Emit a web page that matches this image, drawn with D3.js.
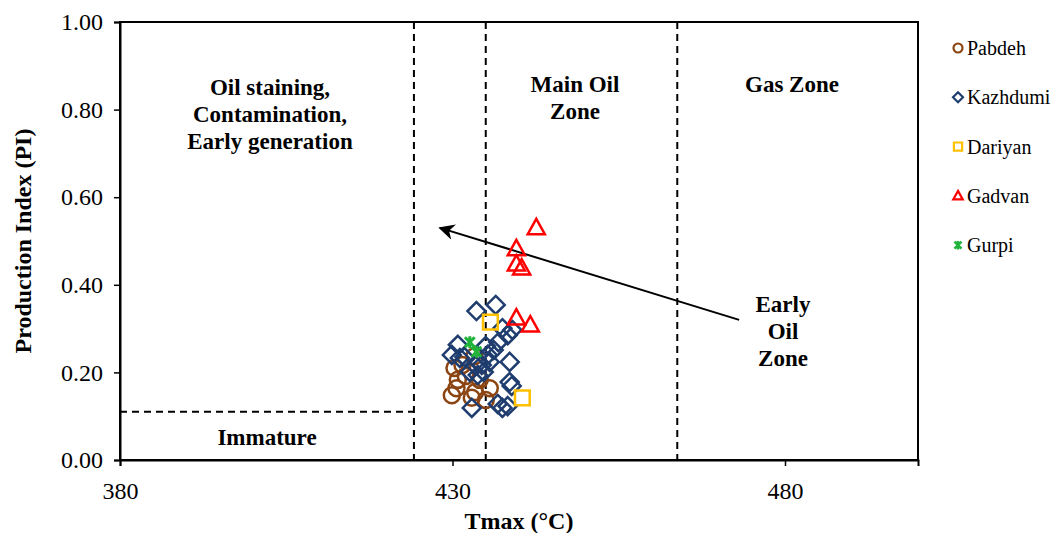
<!DOCTYPE html>
<html>
<head>
<meta charset="utf-8">
<script src="https://cdn.jsdelivr.net/npm/d3@7"></script>
<style>
  html, body { margin: 0; padding: 0; background: #fff; }
  svg { display: block; }
  svg text { font-family: "Liberation Serif", "Times New Roman", serif; }
</style>
</head>
<body>
<svg id="chart" width="1060" height="533"></svg>
<script>
// Tmax (°C) and Production Index (PI) samples, per formation
const pabdeh = [
  [429.9, 0.148], [430.6, 0.164], [430.8, 0.183], [430.3, 0.210], [431.5, 0.217],
  [432.0, 0.192], [432.9, 0.142], [433.4, 0.155], [435.0, 0.137], [435.6, 0.164],
  [434.1, 0.183], [433.3, 0.237]
];
const kazhdumi = [
  [433.6, 0.340], [436.5, 0.354], [437.5, 0.301], [438.3, 0.285], [439.0, 0.297],
  [436.9, 0.269], [436.2, 0.251], [435.3, 0.240], [430.8, 0.263], [429.9, 0.240],
  [431.1, 0.233], [432.6, 0.201], [433.5, 0.215], [434.7, 0.201], [435.6, 0.224],
  [434.4, 0.217], [438.6, 0.224], [438.6, 0.178], [438.9, 0.169], [432.9, 0.119],
  [436.8, 0.128], [437.5, 0.119], [438.3, 0.123], [433.8, 0.194], [431.8, 0.235],
  [435.0, 0.260]
];
const dariyan = [[435.7, 0.315], [440.5, 0.142]];
const gadvan = [
  [442.6, 0.530], [439.6, 0.482], [439.6, 0.447], [440.4, 0.438], [439.6, 0.324], [441.7, 0.308]
];
const gurpi = [[432.6, 0.269], [433.6, 0.247]];

const xTicks = [380, 430, 480];
const yTicks = [0, 0.2, 0.4, 0.6, 0.8, 1.0];

// Zone boundaries (Tmax) and immature PI limit
const zoneTmax = [424.2, 435, 463.8];
const immaturePI = 0.11;

// Maturation trend arrow: [tmax, PI] start and end
const trendArrow = [[473.1, 0.32], [428.1, 0.53]];

const series = [
  { name: "Pabdeh",   data: pabdeh,   color: "#8B4513", symbol: "circle" },
  { name: "Kazhdumi", data: kazhdumi, color: "#1F3D6E", symbol: "diamond" },
  { name: "Dariyan",  data: dariyan,  color: "#FFC000", symbol: "square" },
  { name: "Gadvan",   data: gadvan,   color: "#FF0000", symbol: "triangle" },
  { name: "Gurpi",    data: gurpi,    color: "#22B33A", symbol: "star" }
];

const svg = d3.select("#chart");
const margin = { left: 120, top: 22, right: 142, bottom: 73 };
const W = 1060 - margin.left - margin.right;
const H = 533 - margin.top - margin.bottom;

const x = d3.scaleLinear().domain([380, 500]).range([0, W]);
const y = d3.scaleLinear().domain([0, 1]).range([H, 0]);

const g = svg.append("g").attr("transform", `translate(${margin.left},${margin.top})`);

// zone boundaries
const dash = "7,5";
zoneTmax.forEach(t => {
  g.append("line")
    .attr("x1", x(t)).attr("x2", x(t))
    .attr("y1", 0).attr("y2", H)
    .attr("stroke", "#000").attr("stroke-width", 2)
    .attr("stroke-dasharray", dash);
});
g.append("line")
  .attr("x1", 0).attr("x2", x(zoneTmax[0]))
  .attr("y1", y(immaturePI)).attr("y2", y(immaturePI))
  .attr("stroke", "#000").attr("stroke-width", 2)
  .attr("stroke-dasharray", dash);

// zone labels
const zoneLabels = [
  { lines: ["Oil staining,", "Contamination,", "Early generation"], cx: 150, top: 73 },
  { lines: ["Main Oil", "Zone"], cx: 455, top: 70 },
  { lines: ["Gas Zone"], cx: 672, top: 70 },
  { lines: ["Immature"], cx: 147, top: 423 },
  { lines: ["Early", "Oil", "Zone"], cx: 663, top: 290 }
];
zoneLabels.forEach(lb => {
  const t = g.append("text")
    .attr("text-anchor", "middle")
    .attr("font-weight", "bold")
    .attr("font-size", 23)
    .attr("fill", "#000");
  lb.lines.forEach((s, i) => {
    t.append("tspan").attr("x", lb.cx).attr("y", lb.top + i * 27).text(s);
  });
});

// trend arrow
svg.append("defs").append("marker")
  .attr("id", "arrowhead")
  .attr("viewBox", "0 0 10 10")
  .attr("refX", 9).attr("refY", 5)
  .attr("markerWidth", 18).attr("markerHeight", 16)
  .attr("markerUnits", "userSpaceOnUse")
  .attr("orient", "auto")
  .append("path")
  .attr("d", "M0,0 L10,5 L0,10 L3,5 Z")
  .attr("fill", "#000");
g.append("line")
  .attr("x1", x(trendArrow[0][0])).attr("y1", y(trendArrow[0][1]))
  .attr("x2", x(trendArrow[1][0])).attr("y2", y(trendArrow[1][1]))
  .attr("stroke", "#000").attr("stroke-width", 2)
  .attr("marker-end", "url(#arrowhead)");

// marker shapes
function symbolPath(symbol, size) {
  const s = size;
  switch (symbol) {
    case "circle":
      return d3.symbol(d3.symbolCircle, Math.PI * s * s)();
    case "diamond":
      return `M0,${-s}L${s},0L0,${s}L${-s},0Z`;
    case "square":
      return `M${-s * 0.82},${-s * 0.82}H${s * 0.82}V${s * 0.82}H${-s * 0.82}Z`;
    case "triangle":
      return `M0,${-s * 1.0}L${s * 0.95},${s * 0.7}L${-s * 0.95},${s * 0.7}Z`;
    case "star":
      return `M${-s * 0.7},${-s * 0.7}L${s * 0.7},${s * 0.7}M${s * 0.7},${-s * 0.7}L${-s * 0.7},${s * 0.7}M0,${-s * 0.85}L0,${s * 0.85}`;
  }
}

series.forEach(sr => {
  const size = sr.symbol === "circle" ? 8 : sr.symbol === "diamond" ? 9 : sr.symbol === "star" ? 7 : 9;
  g.append("g").selectAll("path")
    .data(sr.data)
    .join("path")
    .attr("transform", d => `translate(${x(d[0])},${y(d[1])})`)
    .attr("d", symbolPath(sr.symbol, size))
    .attr("fill", "none")
    .attr("stroke", sr.color)
    .attr("stroke-width", sr.symbol === "star" ? 3 : 2.5);
});

// frame
g.append("rect")
  .attr("x", 0).attr("y", 0).attr("width", W).attr("height", H)
  .attr("fill", "none").attr("stroke", "#000").attr("stroke-width", 2);

// axes
const xAxis = g.append("g")
  .attr("transform", `translate(0,${H})`)
  .call(d3.axisBottom(x).tickValues(xTicks).tickSize(6).tickPadding(16).tickFormat(d3.format("d")));
const yAxis = g.append("g")
  .call(d3.axisLeft(y).tickValues(yTicks).tickSize(6).tickPadding(11).tickFormat(d3.format(".2f")));
[xAxis, yAxis].forEach(a => {
  a.attr("font-family", null);
  a.select(".domain").attr("stroke", "#000").attr("stroke-width", 2);
  a.selectAll(".tick line").attr("stroke", "#000").attr("stroke-width", 1.5);
  a.selectAll(".tick text").attr("font-size", 24).attr("fill", "#000");
});

// axis titles
svg.append("text")
  .attr("x", margin.left + W / 2).attr("y", 529)
  .attr("text-anchor", "middle")
  .attr("font-weight", "bold").attr("font-size", 24)
  .text("Tmax (°C)");
svg.append("text")
  .attr("transform", `translate(31,${margin.top + H / 2}) rotate(-90)`)
  .attr("text-anchor", "middle")
  .attr("font-weight", "bold").attr("font-size", 24)
  .text("Production Index (PI)");

// legend
const legend = svg.append("g").attr("transform", "translate(958,48)");
series.forEach((sr, i) => {
  const row = legend.append("g").attr("transform", `translate(0,${i * 49.3})`);
  row.append("path")
    .attr("d", symbolPath(sr.symbol, sr.symbol === "circle" ? 4.5 : 5))
    .attr("fill", "none")
    .attr("stroke", sr.color)
    .attr("stroke-width", sr.symbol === "star" ? 2.5 : 2.2);
  row.append("text")
    .attr("x", 9).attr("y", 0).attr("dy", "0.35em")
    .attr("font-size", 20).attr("fill", "#000")
    .text(sr.name);
});
</script>
</body>
</html>
